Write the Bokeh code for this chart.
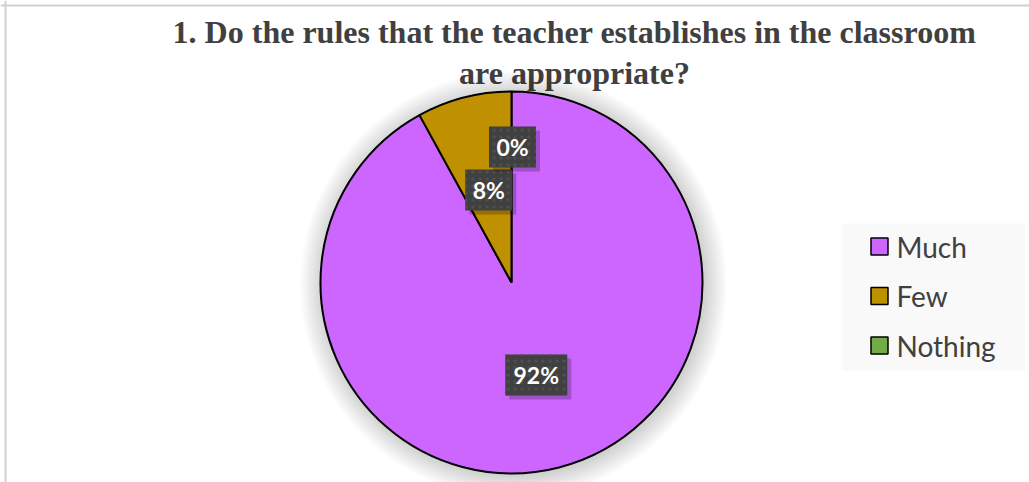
import math
from bokeh.plotting import figure
from bokeh.models import Range1d, Span
from bokeh.core.properties import value
from bokeh.embed import file_html
from bokeh.resources import INLINE

# ---- data ----
title_lines = ["1. Do the rules that the teacher establishes in the classroom",
               "are appropriate?"]
categories = ["Much", "Few", "Nothing"]
percents = [92, 8, 0]
colors = ["#CC66FF", "#BF9000", "#70AD47"]

W, H = 1029, 482
p = figure(width=W, height=H, x_range=Range1d(0, W), y_range=Range1d(0, H),
           output_backend="svg", toolbar_location=None, min_border=0)
p.axis.visible = False
p.grid.visible = False
p.outline_line_color = None
p.background_fill_color = "white"

def Y(px):
    return H - px

# chart border (left and top)
p.add_layout(Span(location=5, dimension="height", line_color="#D0D0D0", line_width=2))
p.add_layout(Span(location=Y(5), dimension="width", line_color="#D0D0D0", line_width=2))

# title
for i, line in enumerate(title_lines):
    p.text(x=[574], y=[Y(31 + 41 * i)], text=[line], text_align="center",
           text_baseline="middle", text_font=value("Liberation Serif"),
           text_font_style="bold", text_font_size="32px", text_color="#404040")

cx, cy, r = 511, Y(282), 191

# soft shadow glow
for k in range(1, 16):
    p.circle(x=[cx + 2], y=[cy - 2], radius=r + k * 1.5, fill_color="black",
             fill_alpha=0.011, line_color=None)

# wedges: start at 12 o'clock, go clockwise
total = float(sum(percents))
start = math.pi / 2
mids = []
for cat, pct, col in zip(categories, percents, colors):
    sweep = 2 * math.pi * pct / total
    end = start - sweep
    if pct > 0:
        p.wedge(x=[cx], y=[cy], radius=r, start_angle=end, end_angle=start,
                fill_color=col, line_color="black", line_width=2)
    mids.append((start + end) / 2)
    start = end

# data labels
label_frac = [0.5, 0.5, 0.71]
for pct, mid, fr in zip(percents, mids, label_frac):
    lx = cx + fr * r * math.cos(mid) + 1
    ly = cy + fr * r * math.sin(mid)
    txt = f"{pct}%"
    w = 17 + 15 * len(txt)
    p.rect(x=[lx + 4], y=[ly - 4], width=w, height=41, fill_color="black",
           fill_alpha=0.22, line_color=None)
    p.rect(x=[lx], y=[ly], width=w, height=41, fill_color="#404040",
           line_color=None, hatch_pattern="dot", hatch_color="#4E4E4E",
           hatch_scale=7, hatch_weight=1)
    p.text(x=[lx], y=[ly], text=[txt], text_align="center", text_baseline="middle",
           text_font=value("Lato"), text_font_style="bold",
           text_font_size="23px", text_color="white")

# legend
p.rect(x=[(842 + 1025) / 2], y=[Y((223 + 370) / 2)], width=183, height=147,
       fill_color="#F9F9F9", line_color=None)
for i, (cat, col) in enumerate(zip(categories, colors)):
    ly = Y(246 + 49.5 * i)
    p.rect(x=[879], y=[ly], width=17, height=17, fill_color=col,
           line_color="black", line_width=1.5)
    p.text(x=[896], y=[ly], text=[cat], text_align="left", text_baseline="middle",
           text_font=value("Lato"), text_font_size="28px", text_color="#404040")

open("out.html", "w").write(file_html(p, INLINE))
